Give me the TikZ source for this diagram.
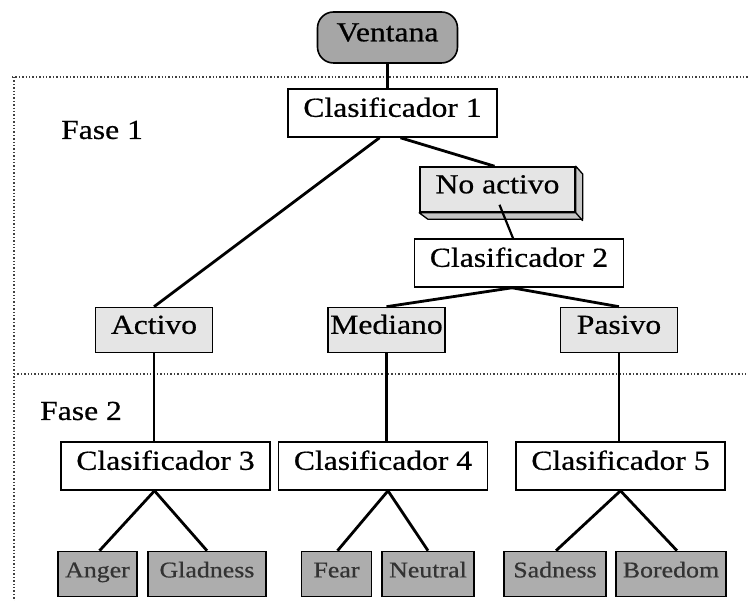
\documentclass[tikz,border=0pt]{standalone}
\usepackage{fontspec}
\setmainfont{Liberation Serif}[FakeStretch=1.15,FakeBold=0.6]
\begin{document}
\begin{tikzpicture}[x=1pt,y=-1pt,
  box/.style={draw=black,line width=1.6pt,inner sep=0pt,align=center,
    text height=0.86em,text depth=0.1em,
    font=\fontsize{27.5}{30}\selectfont},
  clbox/.style={box,fill=white,minimum width=209pt,minimum height=48pt},
  midbox/.style={box,fill=black!10,minimum width=117pt,minimum height=45pt},
  leaf/.style={box,fill=black!32,minimum height=45pt,text=black!80,
    text height=0.78em,text depth=0.1em,
    font=\fontsize{22.5}{25}\selectfont},
  link/.style={line width=2.8pt,black},
  sep/.style={dotted,line width=1.4pt,black!75},
  phase/.style={font=\fontsize{27.5}{30}\selectfont,anchor=west,inner sep=0pt}]
\useasboundingbox (0,0) rectangle (748,601);
% phase separators
\draw[sep] (12,77) -- (748,77);
\draw[sep] (14,77) -- (14,601);
\draw[sep] (14,374) -- (748,374);
\node[phase] (f1) at (61,130) {Fase 1};
\node[phase] (f2) at (40,411) {Fase 2};
% nodes
\node[box,fill=black!35,rounded corners=16pt,minimum width=140pt,minimum height=51pt] (ven) at (387.5,37.5) {Ventana};
\node[clbox] (c1) at (392.5,113) {Clasificador 1};
\node[box,fill=black!10,minimum width=155pt,minimum height=45pt] (na) at (497.5,189.5) {No activo};
\fill[black!22,draw=black,line width=1.3pt,line join=round]
  (na.north east) -- ++(7,8) -- ++(0,45) -- ++(-155,0) -- (na.south west) -- (na.south east) -- cycle;
\draw[line width=1.3pt] (na.south east) -- ++(7,8);
\node[clbox] (c2) at (519,263) {Clasificador 2};
\node[midbox] (act) at (154,330) {Activo};
\node[midbox] (med) at (386.5,330) {Mediano};
\node[midbox] (pas) at (619,330) {Pasivo};
\node[clbox] (c3) at (165.5,466) {Clasificador 3};
\node[clbox] (c4) at (383,466) {Clasificador 4};
\node[clbox] (c5) at (620.5,466) {Clasificador 5};
\node[leaf,minimum width=79pt] (ang) at (97.5,574) {Anger};
\node[leaf,minimum width=118pt] (gla) at (207,574) {Gladness};
\node[leaf,minimum width=70pt] (fea) at (336.5,574) {Fear};
\node[leaf,minimum width=92pt] (neu) at (428,574) {Neutral};
\node[leaf,minimum width=102pt] (sad) at (555,574) {Sadness};
\node[leaf,minimum width=110pt] (bor) at (671,574) {Boredom};
% connectors
\draw[link] (ven.south) -- (c1.north -| ven.south);
\draw[link] ([xshift=-13pt]c1.south) -- (act.north);
\draw[link] ([xshift=8pt]c1.south) -- ([xshift=-3pt]na.north);
\draw[link,line width=2.2pt] ([xshift=2pt,yshift=8pt]na.south) -- ([xshift=-6pt]c2.north);
\draw[link] ([xshift=-7pt]c2.south) -- (med.north);
\draw[link] ([xshift=-7pt]c2.south) -- (pas.north);
\draw[link] (act.south) -- (c3.north -| act.south);
\draw[link] (med.south) -- (c4.north -| med.south);
\draw[link] (pas.south) -- (c5.north -| pas.south);
\draw[link] ([xshift=-11pt]c3.south) -- ([xshift=2pt]ang.north);
\draw[link] ([xshift=-11pt]c3.south) -- (gla.north);
\draw[link] ([xshift=5pt]c4.south) -- ([xshift=1pt]fea.north);
\draw[link] ([xshift=5pt]c4.south) -- (neu.north);
\draw[link] ([xshift=0pt]c5.south) -- ([xshift=1pt]sad.north);
\draw[link] ([xshift=0pt]c5.south) -- ([xshift=6pt]bor.north);
\end{tikzpicture}
\end{document}
